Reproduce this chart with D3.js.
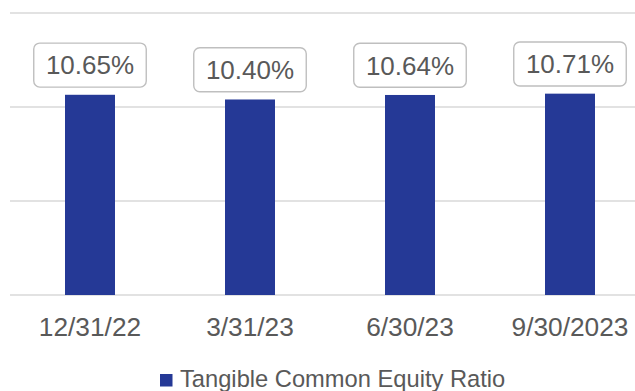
<!DOCTYPE html>
<html>
<head>
<meta charset="utf-8">
<script src="https://cdn.jsdelivr.net/npm/d3@7/dist/d3.min.js"></script>
<style>
  html, body { margin: 0; padding: 0; background: #ffffff; }
  svg { display: block; }
  text { font-family: "Liberation Sans", Arial, sans-serif; fill: #595959; }
</style>
</head>
<body>
<svg id="chart" width="635" height="391"></svg>
<script>
// Quarter-end dates and tangible common equity ratio (%)
const categories = ["12/31/22", "3/31/23", "6/30/23", "9/30/2023"];
const ratioValues = [10.65, 10.40, 10.64, 10.71];
const valueLabels = ["10.65%", "10.40%", "10.64%", "10.71%"];
const gridTicks = [0, 5, 10, 15];
const seriesName = "Tangible Common Equity Ratio";

const svg = d3.select("#chart");
const barColor = "#253996";

const x = d3.scaleBand()
  .domain(categories)
  .range([10, 650])
  .paddingInner(0.6875)
  .paddingOuter(0.34375);

const y = d3.scaleLinear()
  .domain([0, 15])
  .range([295, 13]);

// Horizontal gridlines
svg.append("g")
  .selectAll("line")
  .data(gridTicks)
  .join("line")
  .attr("x1", 10)
  .attr("x2", 635)
  .attr("y1", d => y(d))
  .attr("y2", d => y(d))
  .attr("stroke", "#d9d9d9")
  .attr("stroke-width", 1.3);

// Bars
svg.append("g")
  .selectAll("rect")
  .data(ratioValues)
  .join("rect")
  .attr("x", (d, i) => x(categories[i]))
  .attr("y", d => y(d))
  .attr("width", x.bandwidth())
  .attr("height", d => y(0) - y(d))
  .attr("fill", barColor);

// Category axis labels
const xAxis = d3.axisBottom(x).tickSize(0).tickPadding(0);
const axisG = svg.append("g")
  .attr("transform", `translate(0, ${y(0)})`)
  .call(xAxis);
axisG.select(".domain").remove();
axisG.selectAll("text")
  .attr("y", 0)
  .attr("dy", null)
  .attr("transform", "translate(0, 41)")
  .style("font-family", '"Liberation Sans", Arial, sans-serif')
  .style("font-size", "26.3px")
  .style("fill", "#595959");

// Boxed value labels above each bar
const boxW = 112.5, boxH = 44, gap = 7.7;
const labels = svg.append("g")
  .selectAll("g")
  .data(ratioValues)
  .join("g")
  .attr("transform", (d, i) =>
    `translate(${x(categories[i]) + x.bandwidth() / 2}, ${y(d) - gap - boxH / 2})`);

labels.append("rect")
  .attr("x", -boxW / 2)
  .attr("y", -boxH / 2)
  .attr("width", boxW)
  .attr("height", boxH)
  .attr("rx", 6)
  .attr("ry", 6)
  .attr("fill", "#ffffff")
  .attr("stroke", "#bfbfbf")
  .attr("stroke-width", 1.4);

labels.append("text")
  .attr("text-anchor", "middle")
  .attr("y", 9.4)
  .style("font-size", "26px")
  .text((d, i) => valueLabels[i]);

// Legend
const legend = svg.append("g").attr("transform", "translate(160, 374)");
legend.append("rect")
  .attr("width", 12.5)
  .attr("height", 12.5)
  .attr("fill", barColor);
legend.append("text")
  .attr("x", 20)
  .attr("y", 13)
  .style("font-size", "23.7px")
  .text(seriesName);
</script>
</body>
</html>
